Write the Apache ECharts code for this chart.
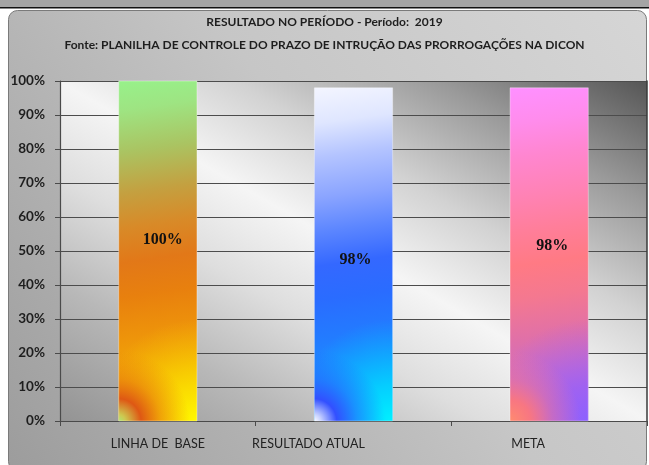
<!DOCTYPE html>
<html><head><meta charset="utf-8">
<script src="https://cdn.jsdelivr.net/npm/echarts@6/dist/echarts.min.js"></script>
<style>html,body{margin:0;padding:0;background:#fff}#c{width:649px;height:465px}</style>
</head><body><div id="c"></div>
<script>
// ---- data ----
const titleLines = ['RESULTADO NO PERÍODO - Período:  2019',
  'Fonte: PLANILHA DE CONTROLE DO PRAZO DE INTRUÇÃO DAS PRORROGAÇÕES NA DICON'];
const categories = ['LINHA DE  BASE', 'RESULTADO ATUAL', 'META'];
const values = [100, 98, 98];
const yMin = 0, yMax = 100, yStep = 10;

// ---- styles ----
function lin(x, y, x2, y2, stops) {
  return {type: 'linear', x, y, x2, y2, colorStops: stops.map(([o, c]) => ({offset: o, color: c}))};
}
function rad(x, y, r, stops) {
  return {type: 'radial', x, y, r, colorStops: stops.map(([o, c]) => ({offset: o, color: c}))};
}
const barFills = [
  {
    main: lin(0.2, 0, 0.8, 1, [[0,'#98f08a'],[0.08,'#9ee482'],[0.2,'#aac462'],[0.32,'#c4a040'],[0.42,'#d88a28'],[0.52,'#e27818'],[0.62,'#e8800e'],[0.74,'#ee940a'],[0.86,'#f2aa06'],[1,'#f4b800']]),
    br: rad(1, 1, 1.3, [[0,'rgba(255,250,0,1)'],[0.35,'rgba(252,228,0,0.8)'],[1,'rgba(248,200,0,0)']]),
    bl: rad(0, 1, 0.9, [[0,'rgba(170,230,120,1)'],[0.1,'rgba(205,200,80,1)'],[0.32,'rgba(222,88,20,1)'],[0.6,'rgba(230,110,16,0.5)'],[1,'rgba(236,130,16,0)']])
  },
  {
    main: lin(0.2, 0, 0.8, 1, [[0,'#f2f4ff'],[0.1,'#dfe6ff'],[0.2,'#b4c4ff'],[0.32,'#8aa4ff'],[0.42,'#5c86ff'],[0.52,'#3468ff'],[0.62,'#2a6cff'],[0.74,'#227cff'],[0.86,'#1a90ff'],[1,'#14a0ff']]),
    br: rad(1, 1, 1.3, [[0,'rgba(0,242,255,1)'],[0.35,'rgba(0,220,255,0.8)'],[1,'rgba(0,190,255,0)']]),
    bl: rad(0, 1, 0.9, [[0,'rgba(255,255,255,1)'],[0.1,'rgba(200,210,255,1)'],[0.32,'rgba(50,80,255,1)'],[0.6,'rgba(45,90,255,0.5)'],[1,'rgba(40,100,255,0)']])
  },
  {
    main: lin(0.2, 0, 0.8, 1, [[0,'#ff90ff'],[0.1,'#ff8cec'],[0.2,'#ff86d0'],[0.32,'#ff82b4'],[0.42,'#ff7e9a'],[0.52,'#ff7a84'],[0.62,'#f47890'],[0.74,'#e070a8'],[0.86,'#cc6cc4'],[1,'#c068d4']]),
    br: rad(1, 1, 1.3, [[0,'rgba(140,96,255,1)'],[0.35,'rgba(150,96,250,0.8)'],[1,'rgba(170,100,240,0)']]),
    bl: rad(0, 1, 0.9, [[0,'rgba(255,140,110,1)'],[0.3,'rgba(255,120,120,0.9)'],[0.6,'rgba(255,120,130,0.4)'],[1,'rgba(255,120,140,0)']])
  }
];
const labelShift = [[5, -11], [2, 5], [3, -9]];
const xLabelPad = [0, 90, 42];
const BAR_RATIO = 0.4;

const plotBg = lin(0.75, -0.25, 0.25, 1.25, [[0,'#555555'],[0.18,'#9a9a9a'],[0.35,'#d2d2d2'],[0.5,'#f5f5f5'],[0.64,'#dedede'],[0.8,'#b8b8b8'],[1,'#939393']]);

const chart = echarts.init(document.getElementById('c'), null, {renderer: 'canvas'});
chart.setOption({
  animation: false,
  backgroundColor: '#ffffff',
  graphic: [
    {type: 'rect', z: -10, shape: {x: 0, y: 0, width: 649, height: 7}, style: {fill: '#a4a4a4'}},
    {type: 'rect', z: -10, shape: {x: 0, y: 7, width: 649, height: 1.5}, style: {fill: '#111'}},
    {type: 'rect', z: -10, shape: {x: 8.5, y: 10.5, width: 638, height: 460, r: 9},
      style: {fill: lin(1, 0, 0, 1, [[0,'#d6d6d6'],[0.45,'#c6c6c6'],[1,'#9c9c9c']]), stroke: '#7a7a7a', lineWidth: 1}}
  ],
  title: {
    text: titleLines.join('\n'),
    left: 'center',
    top: 6,
    textStyle: {fontFamily: 'Lato', fontWeight: 'bold', fontSize: 12, lineHeight: 23, color: '#1e1e1e'}
  },
  grid: {left: 60, right: 2, top: 81, bottom: 44, show: true, backgroundColor: plotBg, borderWidth: 0},
  xAxis: {
    type: 'category',
    data: categories.map((c, i) => ({value: c, textStyle: {padding: [0, xLabelPad[i], 0, 0]}})),
    axisLine: {lineStyle: {color: '#4a4a4a', width: 1.2}},
    axisTick: {show: true, length: 5, lineStyle: {color: '#4a4a4a'}},
    axisLabel: {margin: 16, fontFamily: 'Lato', fontSize: 12.5, color: '#222'},
    splitLine: {show: false}
  },
  yAxis: [{
    type: 'value', min: yMin, max: yMax, interval: yStep,
    axisLine: {show: true, lineStyle: {color: '#4a4a4a', width: 1.2}},
    axisTick: {show: true, length: 5, lineStyle: {color: '#4a4a4a'}},
    axisLabel: {formatter: '{value}%', margin: 15, fontFamily: 'Lato', fontWeight: 'bold', fontSize: 13.5, color: '#1e1e1e'},
    splitLine: {show: true, lineStyle: {color: '#4c4c4c', width: 1.2}}
  }, {
    type: 'value', min: yMin, max: yMax, interval: yStep, position: 'right',
    axisLine: {show: true, lineStyle: {color: '#3a3a3a', width: 1.5}},
    axisTick: {show: false}, axisLabel: {show: false}, splitLine: {show: false}
  }],
  series: [{
    type: 'custom',
    data: values.map((v, i) => [i, v]),
    encode: {x: 0, y: 1},
    renderItem: function (params, api) {
      const i = params.dataIndex;
      const v = api.value(1);
      const top = api.coord([api.value(0), v]);
      const base = api.coord([api.value(0), 0]);
      const bw = api.size([1, 0])[0] * BAR_RATIO;
      const x = top[0] - bw / 2;
      const h = base[1] - top[1];
      const f = barFills[i];
      const shape = {x: x, y: top[1], width: bw, height: h};
      return {
        type: 'group',
        children: [
          {type: 'rect', shape: shape, style: {fill: f.main}},
          {type: 'rect', shape: shape, style: {fill: f.br}},
          {type: 'rect', shape: shape, style: {fill: f.bl, stroke: 'rgba(255,255,255,0.35)', lineWidth: 1}},
          {type: 'text', x: top[0] + labelShift[i][0], y: (top[1] + base[1]) / 2 + labelShift[i][1],
            style: {text: v + '%', fontFamily: 'Liberation Serif', fontWeight: 'bold', fontSize: 16,
              fill: '#111', align: 'center', verticalAlign: 'middle'}}
        ]
      };
    }
  }]
});
</script></body></html>
